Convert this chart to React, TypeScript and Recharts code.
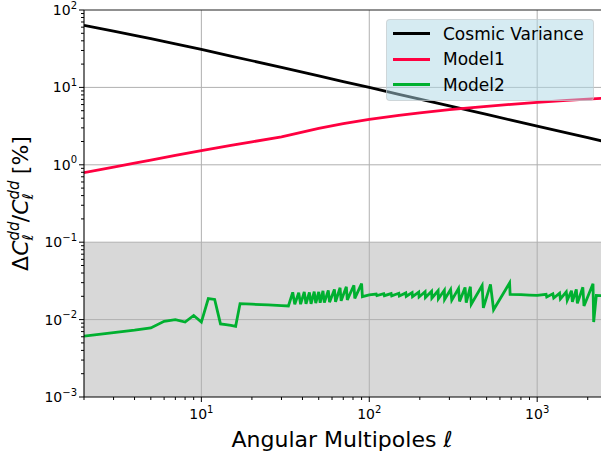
import { LineChart, Line, XAxis, YAxis, ReferenceArea, ReferenceLine, Legend, Label } from 'recharts';

// multipoles used for the smooth curves
const ellSmooth = [2, 3, 4, 5, 7, 10, 15, 20, 30, 50, 70, 100, 150, 200, 300, 500, 700, 1000, 1500, 2000, 2500];
const cosmicVariance = [63.2, 53.5, 47.1, 42.6, 36.5, 30.9, 25.4, 22.1, 18.1, 14.1, 11.9, 9.98, 8.15, 7.06, 5.77, 4.47, 3.78, 3.16, 2.58, 2.24, 2.0];
const model1 = [0.79, 0.93, 1.05, 1.15, 1.32, 1.53, 1.78, 1.98, 2.3, 2.95, 3.4, 3.85, 4.35, 4.7, 5.15, 5.7, 6.05, 6.4, 6.8, 7.05, 7.25];

// Model2 is noisy, read point by point
const model2Ell = [
  2, 3, 4, 5, 6, 7, 8, 9, 10, 11, 12, 13, 14, 15, 16, 17, 20, 25, 30, 33,
  35, 36, 38, 39, 41, 42, 44, 45, 47, 48, 50, 51, 53, 54, 57, 58, 62, 63, 67, 68, 73, 74, 81, 82, 90, 91, 100,
  110, 111, 122, 123, 135, 136, 150, 151, 165, 166, 180, 181, 197, 198, 215, 216, 235, 236, 257, 258, 280, 281,
  305, 310, 340, 345, 372, 378, 400, 405, 470, 478, 527, 550, 685, 690,
  800, 900, 1000, 1130, 1140, 1240, 1255, 1360, 1375, 1490, 1510, 1600, 1620, 1710, 1735, 1870, 1900,
  2150, 2170, 2250, 2500,
];
const model2 = [
  0.0061, 0.0068, 0.0073, 0.0078, 0.0095, 0.01, 0.0093, 0.0113, 0.0093, 0.0187, 0.0182, 0.0088, 0.0086, 0.0084, 0.0082, 0.0161, 0.0158, 0.0155, 0.0152, 0.015,
  0.0225, 0.0158, 0.0222, 0.0158, 0.0228, 0.016, 0.0224, 0.016, 0.023, 0.0163, 0.0228, 0.0165, 0.0235, 0.0166, 0.0238, 0.0168, 0.0245, 0.017, 0.0258, 0.0175, 0.0265, 0.018, 0.0278, 0.0188, 0.0292, 0.0198, 0.0208,
  0.0214, 0.0204, 0.0216, 0.0204, 0.0217, 0.0203, 0.0219, 0.0202, 0.0221, 0.02, 0.0223, 0.0198, 0.0226, 0.0196, 0.0229, 0.0193, 0.0232, 0.019, 0.0236, 0.0186, 0.024, 0.0182,
  0.0245, 0.0178, 0.0252, 0.0172, 0.026, 0.0165, 0.0266, 0.0158, 0.0276, 0.0142, 0.0285, 0.0134, 0.0298, 0.0212,
  0.021, 0.0207, 0.0205, 0.0212, 0.0196, 0.0215, 0.019, 0.022, 0.0185, 0.0228, 0.0178, 0.0236, 0.017, 0.0245, 0.0162, 0.0262, 0.015,
  0.029, 0.0093, 0.0205, 0.0203,
];

const xTicks = [2, 3, 4, 5, 6, 7, 8, 9, 10, 20, 30, 40, 50, 60, 70, 80, 90, 100, 200, 300, 400, 500, 600, 700, 800, 900, 1000, 2000];
const yTicks = [
  0.001, 0.002, 0.003, 0.004, 0.005, 0.006, 0.007, 0.008, 0.009,
  0.01, 0.02, 0.03, 0.04, 0.05, 0.06, 0.07, 0.08, 0.09,
  0.1, 0.2, 0.3, 0.4, 0.5, 0.6, 0.7, 0.8, 0.9,
  1, 2, 3, 4, 5, 6, 7, 8, 9,
  10, 20, 30, 40, 50, 60, 70, 80, 90, 100,
];
const gridX = [10, 100, 1000];
const gridY = [0.01, 0.1, 1, 10];

const cvData = ellSmooth.map((l, i) => ({ l, y: cosmicVariance[i] }));
const m1Data = ellSmooth.map((l, i) => ({ l, y: model1[i] }));
const m2Data = model2Ell.map((l, i) => ({ l, y: model2[i] }));

const FONT = 'DejaVu Sans';

const exponentOf = (v: number) => {
  const lg = Math.log10(v);
  const r = Math.round(lg);
  return Math.abs(lg - r) < 1e-6 ? r : null;
};
const expText = (e: number) => (e < 0 ? '\u2212' + Math.abs(e) : String(e));

const XTick = ({ x, y, payload }: any) => {
  const e = exponentOf(payload.value);
  return (
    <g>
      <line x1={x} x2={x} y1={y} y2={y + (e !== null ? 5 : 3)} stroke="#000" strokeWidth={1} />
      {e !== null && (
        <text x={x} y={y + 22} textAnchor="middle" fontSize={14} fontFamily={FONT} fill="#000">
          <tspan>10</tspan>
          <tspan dy={-6.5} fontSize={10}>{expText(e)}</tspan>
        </text>
      )}
    </g>
  );
};

const YTick = ({ x, y, payload }: any) => {
  const e = exponentOf(payload.value);
  return (
    <g>
      <line x1={x - (e !== null ? 5 : 3)} x2={x} y1={y} y2={y} stroke="#000" strokeWidth={1} />
      {e !== null && (
        <text x={x - 7} y={y + 5} textAnchor="end" fontSize={14} fontFamily={FONT} fill="#000">
          <tspan>10</tspan>
          <tspan dy={-6.5} fontSize={10}>{expText(e)}</tspan>
        </text>
      )}
    </g>
  );
};

const XTitle = ({ viewBox }: any) => (
  <text x={viewBox.x + viewBox.width / 2 - 2} y={viewBox.y + 50} textAnchor="middle" fontSize={22} fontFamily={FONT} fill="#000">
    Angular Multipoles <tspan fontStyle="italic">ℓ</tspan>
  </text>
);

const YTitle = ({ viewBox }: any) => {
  const cx = 28;
  const cy = viewBox.y + viewBox.height / 2;
  return (
    <text x={cx} y={cy} transform={`rotate(-90 ${cx} ${cy})`} textAnchor="middle" fontSize={22} fontFamily={FONT} fill="#000">
      <tspan>Δ</tspan>
      <tspan fontStyle="italic">C</tspan>
      <tspan fontStyle="italic" fontSize={15} dy={-9}>dd</tspan>
      <tspan fontStyle="italic" fontSize={15} dx={-19} dy={14}>ℓ</tspan>
      <tspan dx={12} dy={-5}>/</tspan>
      <tspan fontStyle="italic">C</tspan>
      <tspan fontStyle="italic" fontSize={15} dy={-9}>dd</tspan>
      <tspan fontStyle="italic" fontSize={15} dx={-19} dy={14}>ℓ</tspan>
      <tspan dx={12} dy={-5}>{'\u00a0[%]'}</tspan>
    </text>
  );
};

const LegendBox = ({ payload }: any) => (
  <div
    style={{
      position: 'relative',
      width: 208,
      height: 82,
      boxSizing: 'border-box',
      background: 'rgba(173,216,230,0.5)',
      border: '1px solid rgba(200,200,200,0.6)',
      borderRadius: 4,
      fontFamily: FONT,
      fontSize: 17,
      color: '#000',
    }}
  >
    {(payload || []).map((item: any, i: number) => (
      <div key={item.value} style={{ position: 'absolute', left: 6, top: 13.7 + i * 25.5 - 11, height: 22, display: 'flex', alignItems: 'center' }}>
        <div style={{ width: 37, height: 2.8, background: item.color }} />
        <span style={{ marginLeft: 13, whiteSpace: 'nowrap' }}>{item.value}</span>
      </div>
    ))}
  </div>
);

export default function App() {
  return (
    <div style={{ position: 'fixed', left: 0, top: 0, width: 601, height: 458, overflow: 'hidden', background: '#fff' }}>
      <LineChart width={610} height={458} margin={{ top: 10, right: 6, bottom: 0, left: 0 }} style={{ overflow: 'visible' }}>
        <XAxis
          dataKey="l"
          type="number"
          scale="log"
          domain={[2, 2500]}
          allowDataOverflow
          ticks={xTicks}
          interval={0}
          tick={<XTick />}
          tickLine={false}
          tickSize={0}
          tickMargin={0}
          height={61}
          axisLine={{ stroke: '#000', strokeWidth: 1.1 }}
        >
          <Label content={<XTitle />} />
        </XAxis>
        <YAxis
          dataKey="y"
          type="number"
          scale="log"
          domain={[0.001, 100]}
          allowDataOverflow
          ticks={yTicks}
          interval={0}
          tick={<YTick />}
          tickLine={false}
          tickSize={0}
          tickMargin={0}
          width={84}
          axisLine={{ stroke: '#000', strokeWidth: 1.1 }}
        >
          <Label content={<YTitle />} />
        </YAxis>
        <ReferenceArea y1={0.001} y2={0.1} fill="#d8d8d8" fillOpacity={1} stroke="none" />
        {gridX.map((v) => (
          <ReferenceLine key={'gx' + v} x={v} stroke="#b0b0b0" strokeWidth={1} />
        ))}
        {gridY.map((v) => (
          <ReferenceLine key={'gy' + v} y={v} stroke="#b0b0b0" strokeWidth={1} />
        ))}
        <ReferenceLine y={100} stroke="#222" strokeWidth={1.1} />
        <Line data={cvData} dataKey="y" name="Cosmic Variance" stroke="#000000" strokeWidth={2.8} dot={false} isAnimationActive={false} />
        <Line data={m1Data} dataKey="y" name="Model1" stroke="#ff0040" strokeWidth={2.8} dot={false} isAnimationActive={false} />
        <Line data={m2Data} dataKey="y" name="Model2" stroke="#00b030" strokeWidth={2.8} dot={false} isAnimationActive={false} />
        <Legend
          layout="vertical"
          align="center"
          verticalAlign="middle"
          content={<LegendBox />}
          wrapperStyle={{ left: 386, top: 19, width: 208, height: 82 }}
        />
      </LineChart>
    </div>
  );
}
